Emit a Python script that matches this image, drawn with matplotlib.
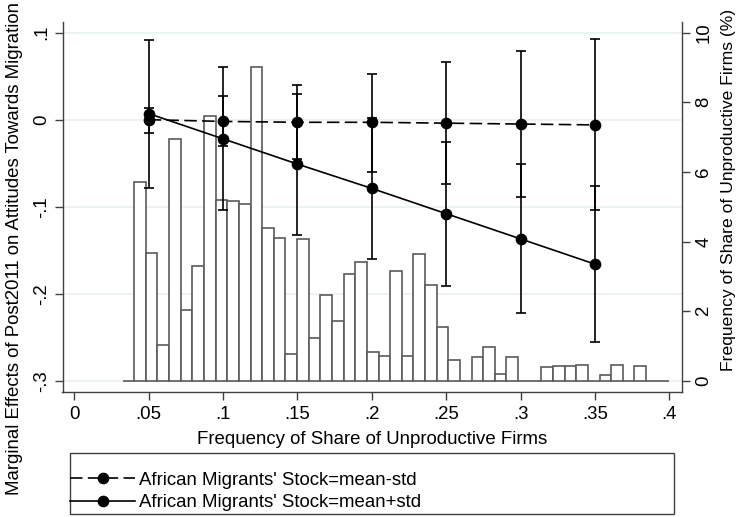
import matplotlib
matplotlib.use("Agg")
import matplotlib.pyplot as plt
from matplotlib.patches import Rectangle
import numpy as np

plt.rcParams['font.family'] = ['Liberation Sans', 'DejaVu Sans']
FS = 13.4

# marginal effects at each share of unproductive firms
share = [0.05, 0.10, 0.15, 0.20, 0.25, 0.30, 0.35]
me_low = [0.000, -0.002, -0.003, -0.003, -0.004, -0.005, -0.006]
ci_low_lo = [-0.015, -0.030, -0.045, -0.060, -0.074, -0.089, -0.104]
ci_low_hi = [0.013, 0.027, 0.040, 0.053, 0.066, 0.079, 0.093]
me_high = [0.007, -0.022, -0.051, -0.079, -0.108, -0.137, -0.166]
ci_high_lo = [-0.078, -0.104, -0.132, -0.160, -0.191, -0.222, -0.256]
ci_high_hi = [0.091, 0.060, 0.030, 0.002, -0.026, -0.051, -0.076]

# histogram of the share of unproductive firms (%)
hist_start = 0.0325
hist_width = 0.00782
hist_pct = [0, 5.72, 3.67, 1.03, 6.95, 2.02, 3.31, 7.62, 5.19, 5.15, 5.08, 9.0,
            4.38, 4.09, 0.78, 4.06, 1.24, 2.46, 1.73, 3.08, 3.40, 0.82, 0.70,
            3.14, 0.70, 3.64, 2.76, 1.54, 0.60, 0, 0.67, 0.97, 0.20, 0.67, 0,
            0, 0.39, 0.41, 0.41, 0.46, 0, 0.17, 0.46, 0, 0.41, 0, 0]

xticks = [0, 0.05, 0.1, 0.15, 0.2, 0.25, 0.3, 0.35, 0.4]
xticklabels = ['0', '.05', '.1', '.15', '.2', '.25', '.3', '.35', '.4']
lticks = [0.1, 0, -0.1, -0.2, -0.3]
lticklabels = ['.1', '0', '-.1', '-.2', '-.3']
rticks = [0, 2, 4, 6, 8, 10]

leg_labels = ["African Migrants' Stock=mean-std", "African Migrants' Stock=mean+std"]

W, H = 739, 517
axcol = '#404040'
fig = plt.figure(figsize=(W / 100, H / 100), dpi=100)
rect = [62.5 / W, 1 - 392.3 / H, 619 / W, 370.6 / H]

ax_h = fig.add_axes(rect)
ax = fig.add_axes(rect, sharex=ax_h)
ax.patch.set_visible(False)

# histogram, right axis
edges = hist_start + hist_width * np.arange(len(hist_pct))
ax_h.bar(edges, hist_pct, width=hist_width, align='edge', color='white',
         edgecolor='#5a5a5a', linewidth=1.2, zorder=2)
ax_h.set_ylim(-0.333, 10.316)
ax_h.set_xlim(-0.0079, 0.4082)
ax.set_ylim(-0.3133, 0.1126)

ax_h.yaxis.tick_right()
ax_h.set_yticks(rticks)
ax_h.set_yticklabels([str(t) for t in rticks], rotation=90, va='center', ha='left')
ax_h.set_xticks(xticks)
ax_h.set_xticklabels(xticklabels)
ax_h.tick_params(axis='both', direction='out', length=6, width=1, color=axcol,
                 labelsize=FS, pad=4)
ax_h.tick_params(axis='y', pad=4)
for s in ['top', 'left']:
    ax_h.spines[s].set_visible(False)
for s in ['right', 'bottom']:
    ax_h.spines[s].set_color(axcol)
    ax_h.spines[s].set_linewidth(1)

# effects, left axis
ax.set_yticks(lticks)
ax.set_yticklabels(lticklabels, rotation=90, va='center', ha='right')
ax.tick_params(axis='y', direction='out', length=6, width=1, color=axcol,
               labelsize=FS, pad=3)
ax.tick_params(axis='x', bottom=False, labelbottom=False)
for s in ['top', 'right', 'bottom']:
    ax.spines[s].set_visible(False)
ax.spines['left'].set_color(axcol)
ax.spines['left'].set_linewidth(1)

# grid lines at the left ticks, drawn behind the bars
fig.canvas.draw()
for t in lticks:
    disp = ax.transData.transform((0, t))
    yh = ax_h.transData.inverted().transform(disp)[1]
    ax_h.axhline(yh, color='#eaf1f3', linewidth=1.2, zorder=0)

err_kw = dict(fmt='none', ecolor='black', elinewidth=1.2, capsize=3.3,
              capthick=1.2, zorder=3)
ax.errorbar(share, me_low,
            yerr=[np.subtract(me_low, ci_low_lo), np.subtract(ci_low_hi, me_low)],
            **err_kw)
ax.errorbar(share, me_high,
            yerr=[np.subtract(me_high, ci_high_lo), np.subtract(ci_high_hi, me_high)],
            **err_kw)
l1, = ax.plot(share, me_low, color='black', linewidth=1.2, dashes=(7.5, 3.2),
              marker='o', markersize=7.4, zorder=4)
l2, = ax.plot(share, me_high, color='black', linewidth=1.2,
              marker='o', markersize=7.4, zorder=4)

fig.text(372 / W, 1 - 440 / H, 'Frequency of Share of Unproductive Firms',
         ha='center', va='center', fontsize=FS)
fig.text(15 / W, 1 - 248.5 / H,
         'Marginal Effects of Post2011 on Attitudes Towards Migration',
         ha='center', va='center', rotation=90, fontsize=FS)
fig.text(729 / W, 1 - 190 / H, 'Frequency of Share of Unproductive Firms (%)',
         ha='center', va='center', rotation=90, fontsize=12.6)

fig.legend([l1, l2], leg_labels, loc='center left',
           bbox_to_anchor=(70 / W, 1 - 491.5 / H), frameon=False, borderpad=0,
           borderaxespad=0, handlelength=3.5, handletextpad=0.2,
           labelspacing=0.27, fontsize=FS)
fig.patches.append(Rectangle((70 / W, 1 - 514.3 / H), 604 / W, 61 / H,
                             transform=fig.transFigure, fill=False,
                             edgecolor=axcol, linewidth=1))

fig.savefig('out.png', dpi=100)
